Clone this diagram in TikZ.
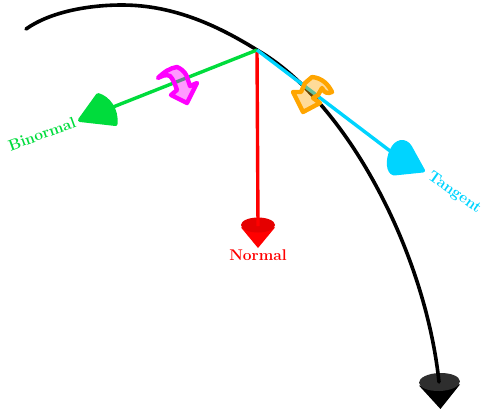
\documentclass[tikz,border=0pt]{standalone}
\usepackage{fontspec}
\begin{document}
\begin{tikzpicture}[x=1pt,y=-1pt,
  curveline/.style={line width=3.6pt,line cap=round},
  axisline/.style={line width=3.4pt},
  flathead/.style={line width=4pt,line join=round},
  twist/.style={line width=4.4pt,line join=round,fill opacity=.4},
  lab/.style={inner sep=0pt,font=\fontsize{15.5}{17}\selectfont\bfseries}]
\definecolor{bgreen}{RGB}{0,220,60}
\definecolor{tcyan}{RGB}{0,212,255}
\definecolor{twmag}{RGB}{255,0,255}
\definecolor{tworange}{RGB}{255,165,0}
\newcommand{\conehead}[8]{% x,y,angle,L,w,d,side colour,base colour
  \begin{scope}[shift={(#1,#2)},rotate=#3]
    \fill[#7] (#4,0) -- (#6*#6/#4,#5) -- (#6*#6/#4,-#5) -- cycle;
    \fill[#8] (0,0) ellipse [x radius=#6,y radius=#5];
  \end{scope}}
\useasboundingbox (0,0) rectangle (481,410);
\coordinate (origin) at (257,50);
\coordinate (curvestart) at (26,29);
\coordinate (curvetop) at (122,5);
\coordinate (blackend) at (439,382);
\coordinate (rednd) at (258,226);
\coordinate (greenend) at (108,109);
\coordinate (cyanend) at (398,157);
\conehead{439.5}{382}{-88}{27}{20.5}{9}{black}{black!82}
\conehead{258}{225}{-90}{23}{17}{7.5}{red}{red!90!black}
\draw[black,curveline] (curvestart) .. controls (50,12) and (88,5) .. (curvetop)
  .. controls (175,5) and (220,27) .. (origin)
  .. controls (345,100) and (425,250) .. (blackend);
\draw[red,axisline] (origin) -- (rednd);
\draw[bgreen,axisline] (origin) -- (greenend);
\draw[tcyan,axisline] (origin) -- (cyanend);
\draw[bgreen,fill=bgreen,flathead] (80,120) -- (98,95)
  .. controls (108,98) and (117,109) .. (115.5,124) -- cycle;
\draw[tcyan,fill=tcyan,flathead] (423,170.5) -- (410,147)
  .. controls (405,139) and (396,141) .. (392,150)
  .. controls (387,160) and (388,172) .. (394,173.5) -- cycle;
\draw[twmag,fill=twmag,twist] (158,78) .. controls (164,72) and (170,68) .. (177,67)
  .. controls (184,70) and (187,75) .. (188,80) -- (190,86) -- (197,83) -- (187,103)
  -- (171,95) -- (177,90) .. controls (175,84) and (173,79) .. (170,76)
  .. controls (166,74) and (162,76) .. (158,78) -- cycle;
\draw[tworange,fill=tworange,twist] (332,92) .. controls (328,84) and (322,78) .. (312,77)
  -- (305,83) -- (301,92) -- (293,92) -- (303,112) -- (320,103) -- (313,98)
  -- (318,95) -- (322,88) .. controls (324,93) and (328,94) .. (332,92) -- cycle;
\node[lab,text=bgreen,rotate=20] (binlabel) at (42,134) {Binormal};
\node[lab,text=red] (norlabel) at (258,255) {Normal};
\node[lab,text=tcyan,anchor=west,rotate=-35] (tanlabel) at (429,175) {Tangent};
\end{tikzpicture}
\end{document}
